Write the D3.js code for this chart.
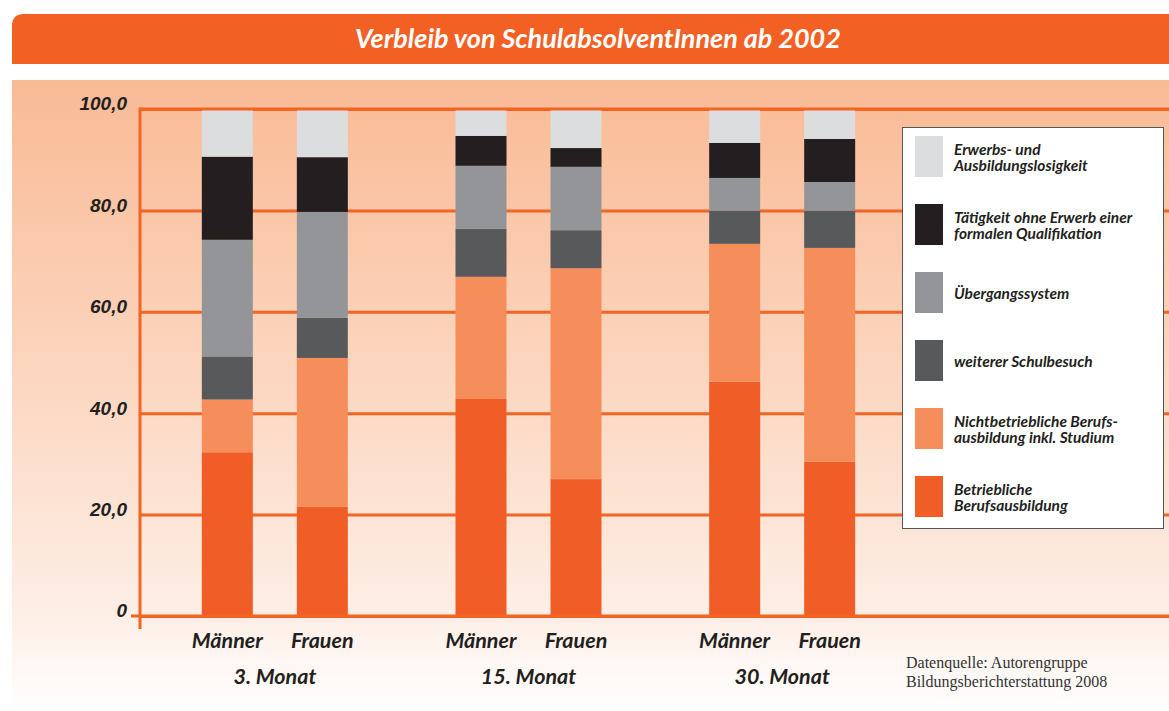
<!DOCTYPE html>
<meta charset="utf-8">
<style>
  body { margin: 0; background: #fff; }
  svg { display: block; font-family: Lato, "Open Sans", sans-serif; }
  .tick text { font-weight: 900; font-style: italic; font-size: 19px; fill: #231f20; }
  .grid line { stroke: #f26522; stroke-width: 3; }
  .lbl { font-weight: 700; font-style: italic; fill: #231f20; }
  .source { font-family: "Liberation Serif", "DejaVu Serif", serif; font-size: 16px; fill: #333; }
</style>
<body>
<script src="https://cdnjs.cloudflare.com/ajax/libs/d3/7.8.5/d3.min.js"></script>
<script>
// data (percent)
var groups = ["3. Monat", "15. Monat", "30. Monat"];
var sexes = ["Männer", "Frauen"];
// bar order: 3.M Männer, 3.M Frauen, 15.M Männer, 15.M Frauen, 30.M Männer, 30.M Frauen
var betrieblich      = [32.3, 21.6, 42.8, 27.0, 46.2, 30.4];
var nichtbetrieblich = [10.4, 29.3, 24.1, 41.6, 27.2, 42.2];
var schulbesuch      = [8.5, 7.9, 9.5, 7.5, 6.5, 7.3];
var uebergang        = [23.0, 20.9, 12.4, 12.5, 6.5, 5.7];
var taetigkeit       = [16.4, 10.8, 5.9, 3.7, 6.9, 8.5];
var erwerbslos       = [9.5, 9.5, 5.3, 7.7, 6.7, 5.9];
var yTicks = [0, 20, 40, 60, 80, 100];

var keys = ["betrieblich", "nichtbetrieblich", "schulbesuch", "uebergang", "taetigkeit", "erwerbslos"];
var series = [betrieblich, nichtbetrieblich, schulbesuch, uebergang, taetigkeit, erwerbslos];
var legendLabels = {
  erwerbslos: ["Erwerbs- und", "Ausbildungslosigkeit"],
  taetigkeit: ["Tätigkeit ohne Erwerb einer", "formalen Qualifikation"],
  uebergang: ["Übergangssystem"],
  schulbesuch: ["weiterer Schulbesuch"],
  nichtbetrieblich: ["Nichtbetriebliche Berufs-", "ausbildung inkl. Studium"],
  betrieblich: ["Betriebliche", "Berufsausbildung"]
};
var color = d3.scaleOrdinal()
  .domain(keys)
  .range(["#f15d27", "#f68e5c", "#58595b", "#949598", "#231f20", "#dcddde"]);

var rows = [];
groups.forEach(function(g, gi) {
  sexes.forEach(function(s, si) {
    var i = gi * 2 + si;
    var r = { group: g, sex: s };
    keys.forEach(function(k, ki) { r[k] = series[ki][i]; });
    rows.push(r);
  });
});

var W = 1169, H = 711;
var svg = d3.select("body").append("svg").attr("width", W).attr("height", H);

var defs = svg.append("defs");
var grad = defs.append("linearGradient").attr("id", "bg").attr("x1", 0).attr("y1", 0).attr("x2", 0).attr("y2", 1);
grad.append("stop").attr("offset", "0%").attr("stop-color", "#f9ba95");
grad.append("stop").attr("offset", "50%").attr("stop-color", "#fcd8c3");
grad.append("stop").attr("offset", "85%").attr("stop-color", "#fdefe7");
grad.append("stop").attr("offset", "100%").attr("stop-color", "#ffffff");

// title band
svg.append("path")
  .attr("d", "M12,64 L12,26 Q12,14 24,14 L" + W + ",14 L" + W + ",64 Z")
  .attr("fill", "#f26024");
svg.append("text")
  .attr("x", 598).attr("y", 48)
  .attr("text-anchor", "middle")
  .attr("fill", "#fff")
  .style("font-weight", 700).style("font-style", "italic").style("font-size", "27px")
  .text("Verbleib von SchulabsolventInnen ab 2002");

// panel
svg.append("rect").attr("x", 12).attr("y", 80).attr("width", W - 12).attr("height", H - 80)
  .attr("fill", "url(#bg)");

var x0 = 140;
var y = d3.scaleLinear().domain([0, 100]).range([616, 109]);
var xg = d3.scaleBand().domain(groups).range([148, 909]);
var xs = d3.scalePoint().domain(sexes).range([-47.5, 47.5]);
var barW = 51;

var fmt = function(d) { return d === 0 ? "0" : d3.format(".1f")(d).replace(".", ","); };

svg.append("g")
  .attr("class", "grid")
  .attr("transform", "translate(" + x0 + ",0)")
  .call(d3.axisLeft(y).tickValues(yTicks).tickFormat(fmt).tickSizeInner(-(W - x0)).tickSizeOuter(0).tickPadding(13))
  .call(function(g) { g.select(".domain").remove(); })
  .call(function(g) { g.selectAll(".tick text").attr("dy", "0.05em"); });

var stack = d3.stack().keys(keys)(rows);

svg.append("g").selectAll("g")
  .data(stack)
  .join("g")
    .attr("fill", function(d) { return color(d.key); })
  .selectAll("rect")
  .data(function(d) { return d; })
  .join("rect")
    .attr("x", function(d) { return xg(d.data.group) + xg.bandwidth() / 2 + xs(d.data.sex) - barW / 2; })
    .attr("y", function(d) { return y(d[1]); })
    .attr("height", function(d) { return y(d[0]) - y(d[1]); })
    .attr("width", barW);

// frame lines
svg.append("line").attr("x1", x0).attr("x2", W).attr("y1", y(100)).attr("y2", y(100))
  .attr("stroke", "#f26522").attr("stroke-width", 3);
svg.append("line").attr("x1", 131).attr("x2", W).attr("y1", y(0)).attr("y2", y(0))
  .attr("stroke", "#f26522").attr("stroke-width", 3);
svg.append("line").attr("x1", x0).attr("x2", x0).attr("y1", y(100) - 1.5).attr("y2", 629)
  .attr("stroke", "#f26522").attr("stroke-width", 3);

// x labels
groups.forEach(function(g) {
  sexes.forEach(function(s) {
    svg.append("text").attr("class", "lbl")
      .attr("x", xg(g) + xg.bandwidth() / 2 + xs(s))
      .attr("y", 648)
      .attr("text-anchor", "middle")
      .style("font-size", "21.5px")
      .text(s);
  });
  svg.append("text").attr("class", "lbl")
    .attr("x", xg(g) + xg.bandwidth() / 2)
    .attr("y", 684)
    .attr("text-anchor", "middle")
    .style("font-size", "21.5px")
    .text(g);
});

// legend
var lg = svg.append("g");
lg.append("rect").attr("x", 902.5).attr("y", 127.5).attr("width", 261).attr("height", 401)
  .attr("fill", "#fff").attr("stroke", "#555").attr("stroke-width", 1);
var item = lg.selectAll("g.item")
  .data(keys.slice().reverse())
  .join("g")
    .attr("class", "item")
    .attr("transform", function(d, i) { return "translate(915," + (136 + i * 68) + ")"; });
item.append("rect").attr("width", 28).attr("height", 41).attr("fill", function(d) { return color(d); });
item.append("text").attr("class", "lbl")
  .style("font-size", "15.5px")
  .each(function(d) {
    var lines = legendLabels[d];
    var t = d3.select(this);
    var base = lines.length === 1 ? 27 : 19;
    lines.forEach(function(l, li) {
      t.append("tspan").attr("x", 39).attr("y", base + li * 16).text(l);
    });
  });

// source
svg.append("text").attr("class", "source").attr("x", 906).attr("y", 668).text("Datenquelle: Autorengruppe");
svg.append("text").attr("class", "source").attr("x", 906).attr("y", 687).text("Bildungsberichterstattung 2008");
</script>
</body>
</html>
